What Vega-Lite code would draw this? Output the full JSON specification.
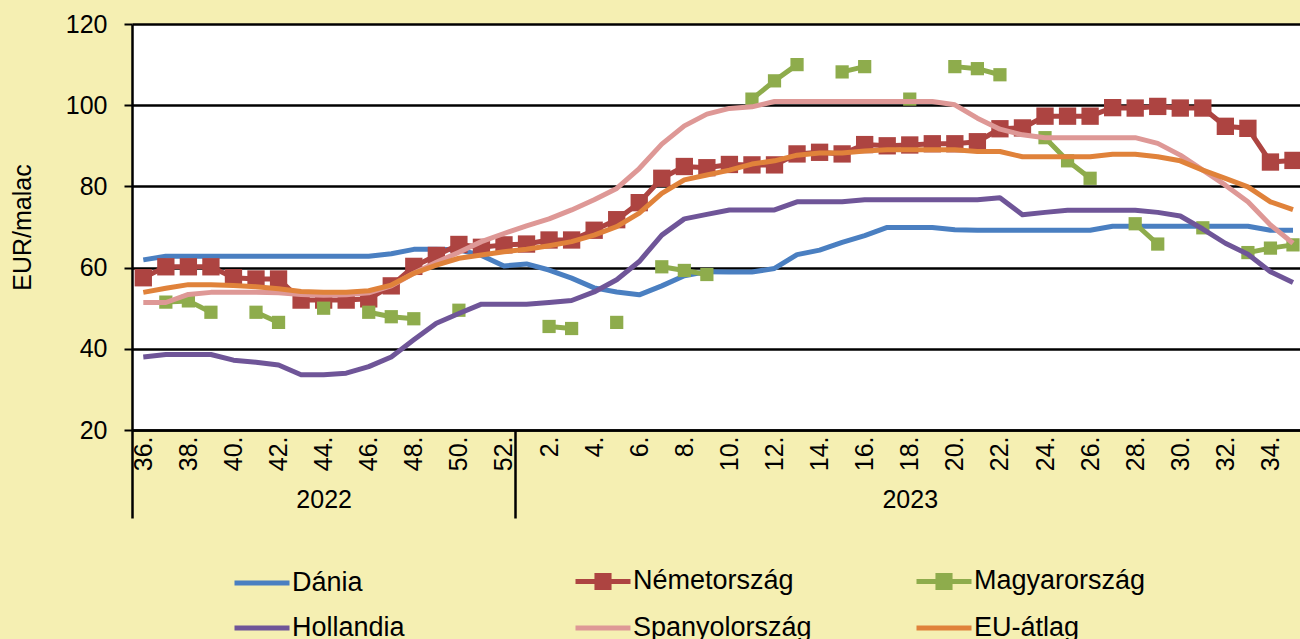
{
  "$schema": "https://vega.github.io/schema/vega-lite/v6.json",
  "autosize": "none",
  "width": 1168,
  "height": 406,
  "padding": {"left": 132, "top": 24, "right": 0, "bottom": 209},
  "background": "#F5EFB2",
  "config": {
    "view": {"fill": "white", "stroke": null},
    "font": "Liberation Sans",
    "axis": {"labelColor": "black", "labelFont": "Liberation Sans", "titleColor": "black"}
  },
  "data": {"values": [
    {"year": 2022, "week": 36, "Dánia": 61.9, "Németország": 57.5, "Magyarország": null, "Hollandia": 38.0, "Spanyolország": 51.4, "EU-átlag": 53.9},
    {"year": 2022, "week": 37, "Dánia": 62.8, "Németország": 60.2, "Magyarország": 51.5, "Hollandia": 38.6, "Spanyolország": 51.4, "EU-átlag": 54.9},
    {"year": 2022, "week": 38, "Dánia": 62.8, "Németország": 60.2, "Magyarország": 51.8, "Hollandia": 38.6, "Spanyolország": 53.4, "EU-átlag": 55.8},
    {"year": 2022, "week": 39, "Dánia": 62.8, "Németország": 60.2, "Magyarország": 49.0, "Hollandia": 38.6, "Spanyolország": 53.9, "EU-átlag": 55.8},
    {"year": 2022, "week": 40, "Dánia": 62.8, "Németország": 57.5, "Magyarország": null, "Hollandia": 37.2, "Spanyolország": 53.9, "EU-átlag": 55.6},
    {"year": 2022, "week": 41, "Dánia": 62.8, "Németország": 57.2, "Magyarország": 49.0, "Hollandia": 36.7, "Spanyolország": 53.9, "EU-átlag": 55.3},
    {"year": 2022, "week": 42, "Dánia": 62.8, "Németország": 57.2, "Magyarország": 46.5, "Hollandia": 36.0, "Spanyolország": 53.8, "EU-átlag": 54.8},
    {"year": 2022, "week": 43, "Dánia": 62.8, "Németország": 52.0, "Magyarország": null, "Hollandia": 33.6, "Spanyolország": 53.4, "EU-átlag": 54.1},
    {"year": 2022, "week": 44, "Dánia": 62.8, "Németország": 52.0, "Magyarország": 50.0, "Hollandia": 33.6, "Spanyolország": 53.2, "EU-átlag": 53.9},
    {"year": 2022, "week": 45, "Dánia": 62.8, "Németország": 52.0, "Magyarország": null, "Hollandia": 34.0, "Spanyolország": 53.3, "EU-átlag": 53.9},
    {"year": 2022, "week": 46, "Dánia": 62.8, "Németország": 52.3, "Magyarország": 49.0, "Hollandia": 35.6, "Spanyolország": 53.8, "EU-átlag": 54.3},
    {"year": 2022, "week": 47, "Dánia": 63.4, "Németország": 55.5, "Magyarország": 47.9, "Hollandia": 38.0, "Spanyolország": 55.5, "EU-átlag": 55.7},
    {"year": 2022, "week": 48, "Dánia": 64.5, "Németország": 60.3, "Magyarország": 47.4, "Hollandia": 42.2, "Spanyolország": 58.6, "EU-átlag": 58.6},
    {"year": 2022, "week": 49, "Dánia": 64.5, "Németország": 63.0, "Magyarország": null, "Hollandia": 46.3, "Spanyolország": 61.3, "EU-átlag": 60.6},
    {"year": 2022, "week": 50, "Dánia": 64.4, "Németország": 65.7, "Magyarország": 49.5, "Hollandia": 48.7, "Spanyolország": 63.8, "EU-átlag": 62.3},
    {"year": 2022, "week": 51, "Dánia": 63.0, "Németország": 65.0, "Magyarország": null, "Hollandia": 51.0, "Spanyolország": 66.4, "EU-átlag": 63.1},
    {"year": 2022, "week": 52, "Dánia": 60.4, "Németország": 65.6, "Magyarország": null, "Hollandia": 51.0, "Spanyolország": 68.4, "EU-átlag": 63.9},
    {"year": 2023, "week": 1, "Dánia": 60.9, "Németország": 65.8, "Magyarország": null, "Hollandia": 51.0, "Spanyolország": 70.3, "EU-átlag": 64.5},
    {"year": 2023, "week": 2, "Dánia": 59.4, "Németország": 66.8, "Magyarország": 45.5, "Hollandia": 51.4, "Spanyolország": 72.0, "EU-átlag": 65.4},
    {"year": 2023, "week": 3, "Dánia": 57.4, "Németország": 66.8, "Magyarország": 45.0, "Hollandia": 51.9, "Spanyolország": 74.2, "EU-átlag": 66.4},
    {"year": 2023, "week": 4, "Dánia": 55.0, "Németország": 69.2, "Magyarország": null, "Hollandia": 54.0, "Spanyolország": 76.7, "EU-átlag": 68.0},
    {"year": 2023, "week": 5, "Dánia": 54.0, "Németország": 71.8, "Magyarország": 46.5, "Hollandia": 57.0, "Spanyolország": 79.5, "EU-átlag": 70.1},
    {"year": 2023, "week": 6, "Dánia": 53.3, "Németország": 76.0, "Magyarország": null, "Hollandia": 61.5, "Spanyolország": 84.4, "EU-átlag": 73.4},
    {"year": 2023, "week": 7, "Dánia": 55.5, "Németország": 82.0, "Magyarország": 60.2, "Hollandia": 68.0, "Spanyolország": 90.4, "EU-átlag": 78.3},
    {"year": 2023, "week": 8, "Dánia": 58.0, "Németország": 84.9, "Magyarország": 59.3, "Hollandia": 72.0, "Spanyolország": 94.9, "EU-átlag": 81.6},
    {"year": 2023, "week": 9, "Dánia": 59.0, "Németország": 84.6, "Magyarország": 58.3, "Hollandia": 73.1, "Spanyolország": 97.8, "EU-átlag": 82.8},
    {"year": 2023, "week": 10, "Dánia": 58.9, "Németország": 85.4, "Magyarország": null, "Hollandia": 74.2, "Spanyolország": 99.2, "EU-átlag": 84.0},
    {"year": 2023, "week": 11, "Dánia": 58.9, "Németország": 85.3, "Magyarország": 101.5, "Hollandia": 74.2, "Spanyolország": 99.6, "EU-átlag": 85.5},
    {"year": 2023, "week": 12, "Dánia": 59.8, "Németország": 85.3, "Magyarország": 106.0, "Hollandia": 74.2, "Spanyolország": 100.9, "EU-átlag": 86.3},
    {"year": 2023, "week": 13, "Dánia": 63.2, "Németország": 88.0, "Magyarország": 110.0, "Hollandia": 76.2, "Spanyolország": 100.9, "EU-átlag": 87.7},
    {"year": 2023, "week": 14, "Dánia": 64.3, "Németország": 88.4, "Magyarország": null, "Hollandia": 76.2, "Spanyolország": 100.9, "EU-átlag": 88.2},
    {"year": 2023, "week": 15, "Dánia": 66.2, "Németország": 88.0, "Magyarország": 108.2, "Hollandia": 76.2, "Spanyolország": 100.9, "EU-átlag": 88.2},
    {"year": 2023, "week": 16, "Dánia": 67.9, "Németország": 90.3, "Magyarország": 109.5, "Hollandia": 76.7, "Spanyolország": 100.9, "EU-átlag": 88.7},
    {"year": 2023, "week": 17, "Dánia": 69.9, "Németország": 90.0, "Magyarország": null, "Hollandia": 76.7, "Spanyolország": 100.9, "EU-átlag": 89.0},
    {"year": 2023, "week": 18, "Dánia": 69.9, "Németország": 90.2, "Magyarország": 101.5, "Hollandia": 76.7, "Spanyolország": 100.9, "EU-átlag": 89.0},
    {"year": 2023, "week": 19, "Dánia": 69.9, "Németország": 90.5, "Magyarország": null, "Hollandia": 76.7, "Spanyolország": 100.9, "EU-átlag": 89.0},
    {"year": 2023, "week": 20, "Dánia": 69.3, "Németország": 90.5, "Magyarország": 109.5, "Hollandia": 76.7, "Spanyolország": 100.1, "EU-átlag": 89.0},
    {"year": 2023, "week": 21, "Dánia": 69.2, "Németország": 91.0, "Magyarország": 109.0, "Hollandia": 76.7, "Spanyolország": 96.8, "EU-átlag": 88.6},
    {"year": 2023, "week": 22, "Dánia": 69.2, "Németország": 94.2, "Magyarország": 107.5, "Hollandia": 77.2, "Spanyolország": 94.1, "EU-átlag": 88.6},
    {"year": 2023, "week": 23, "Dánia": 69.2, "Németország": 94.4, "Magyarország": null, "Hollandia": 73.0, "Spanyolország": 92.7, "EU-átlag": 87.3},
    {"year": 2023, "week": 24, "Dánia": 69.2, "Németország": 97.3, "Magyarország": 92.0, "Hollandia": 73.6, "Spanyolország": 92.0, "EU-átlag": 87.3},
    {"year": 2023, "week": 25, "Dánia": 69.2, "Németország": 97.3, "Magyarország": 86.3, "Hollandia": 74.1, "Spanyolország": 92.0, "EU-átlag": 87.3},
    {"year": 2023, "week": 26, "Dánia": 69.2, "Németország": 97.3, "Magyarország": 82.0, "Hollandia": 74.1, "Spanyolország": 92.0, "EU-átlag": 87.3},
    {"year": 2023, "week": 27, "Dánia": 70.2, "Németország": 99.4, "Magyarország": null, "Hollandia": 74.1, "Spanyolország": 92.0, "EU-átlag": 87.9},
    {"year": 2023, "week": 28, "Dánia": 70.2, "Németország": 99.3, "Magyarország": 70.8, "Hollandia": 74.1, "Spanyolország": 92.0, "EU-átlag": 87.9},
    {"year": 2023, "week": 29, "Dánia": 70.2, "Németország": 99.7, "Magyarország": 65.8, "Hollandia": 73.6, "Spanyolország": 90.6, "EU-átlag": 87.3},
    {"year": 2023, "week": 30, "Dánia": 70.2, "Németország": 99.3, "Magyarország": null, "Hollandia": 72.7, "Spanyolország": 87.7, "EU-átlag": 86.3},
    {"year": 2023, "week": 31, "Dánia": 70.2, "Németország": 99.3, "Magyarország": 69.8, "Hollandia": 69.5, "Spanyolország": 84.0, "EU-átlag": 84.0},
    {"year": 2023, "week": 32, "Dánia": 70.2, "Németország": 94.8, "Magyarország": null, "Hollandia": 66.0, "Spanyolország": 80.3, "EU-átlag": 82.0},
    {"year": 2023, "week": 33, "Dánia": 70.2, "Németország": 94.3, "Magyarország": 63.7, "Hollandia": 63.3, "Spanyolország": 76.2, "EU-átlag": 79.9},
    {"year": 2023, "week": 34, "Dánia": 69.2, "Németország": 86.0, "Magyarország": 64.8, "Hollandia": 59.0, "Spanyolország": 70.5, "EU-átlag": 76.2},
    {"year": 2023, "week": 35, "Dánia": 69.2, "Németország": 86.4, "Magyarország": 65.6, "Hollandia": 56.3, "Spanyolország": 66.0, "EU-átlag": 74.3}
  ]},
  "transform": [
    {"fold": ["Dánia", "Németország", "Magyarország", "Hollandia", "Spanyolország", "EU-átlag"], "as": ["series", "value"]}
  ],
  "encoding": {
    "y": {
      "field": "value", "type": "quantitative",
      "scale": {"domain": [20, 120], "nice": false, "zero": false},
      "axis": {
        "values": [20, 40, 60, 80, 100, 120],
        "title": "EUR/malac", "titleFontSize": 25, "titleFontWeight": "normal", "titleFont": "Liberation Sans",
        "titleX": -110, "titleY": 203, "titleAngle": -90, "titleAlign": "center", "titleBaseline": "middle",
        "labelFontSize": 25, "labelPadding": 17,
        "tickSize": 8, "tickColor": "black", "tickWidth": 2,
        "domainColor": "black", "domainWidth": 2.5,
        "grid": true, "gridColor": "black", "gridWidth": 2.5, "gridOpacity": 1
      }
    },
    "color": {
      "field": "series", "type": "nominal",
      "scale": {
        "domain": ["Dánia", "Németország", "Magyarország", "Hollandia", "Spanyolország", "EU-átlag"],
        "range": ["#4A7FC1", "#AD4441", "#8EAC4C", "#6F5598", "#DE9896", "#E0823A"]
      },
      "legend": {
        "title": null, "orient": "none", "legendX": 100, "legendY": 527, "direction": "horizontal",
        "columns": 3, "gridAlign": "all", "columnPadding": 94, "rowPadding": -12,
        "labelFontSize": 27, "labelFont": "Liberation Sans", "labelColor": "black", "labelLimit": 400,
        "symbolType": "stroke", "symbolSize": 3025, "symbolStrokeWidth": 5, "labelOffset": 0,
        "encode": {
          "symbols": {
            "update": {
              "shape": {"signal": "datum.value === 'Németország' || datum.value === 'Magyarország' ? 'M-1,0H1M-0.22,-0.22H0.22V0.22H-0.22Z' : 'stroke'"},
              "fill": {"scale": "color", "field": "value"},
              "fillOpacity": {"value": 1}
            }
          }
        }
      }
    }
  },
  "layer": [
    {
      "transform": [{"filter": {"field": "series", "oneOf": ["Dánia", "Németország", "Magyarország"]}}],
      "mark": {"type": "line", "strokeWidth": 5, "strokeJoin": "round", "invalid": "break-paths-show-domains"},
      "encoding": {
        "x": {
          "field": "week", "type": "ordinal",
          "scale": {"type": "point", "padding": 0.406, "align": 0.617,
            "domain": [36, 37, 38, 39, 40, 41, 42, 43, 44, 45, 46, 47, 48, 49, 50, 51, 52, 1, 2, 3, 4, 5, 6, 7, 8, 9, 10, 11, 12, 13, 14, 15, 16, 17, 18, 19, 20, 21, 22, 23, 24, 25, 26, 27, 28, 29, 30, 31, 32, 33, 34, 35]},
          "axis": {
            "orient": "bottom",
            "values": [36, 38, 40, 42, 44, 46, 48, 50, 52, 2, 4, 6, 8, 10, 12, 14, 16, 18, 20, 22, 24, 26, 28, 30, 32, 34],
            "labelExpr": "datum.value + '.'", "labelAngle": -90, "labelFontSize": 25, "labelPadding": 6,
            "labelOverlap": false, "ticks": false, "domain": true, "domainColor": "black", "domainWidth": 2.5,
            "grid": false, "title": null
          }
        }
      }
    },
    {
      "transform": [{"filter": {"field": "series", "oneOf": ["Németország", "Magyarország"]}}],
      "mark": {"type": "point", "shape": "square", "filled": true, "opacity": 1},
      "encoding": {
        "x": {
          "field": "week", "type": "ordinal",
          "scale": {"type": "point", "padding": 0.406, "align": 0.617,
            "domain": [36, 37, 38, 39, 40, 41, 42, 43, 44, 45, 46, 47, 48, 49, 50, 51, 52, 1, 2, 3, 4, 5, 6, 7, 8, 9, 10, 11, 12, 13, 14, 15, 16, 17, 18, 19, 20, 21, 22, 23, 24, 25, 26, 27, 28, 29, 30, 31, 32, 33, 34, 35]},
          "axis": {
            "orient": "bottom",
            "values": [44, 18],
            "labelExpr": "datum.value == 44 ? '2022' : '2023'", "labelAngle": 0, "labelFontSize": 25,
            "labelPadding": 57, "labelBaseline": "top", "ticks": false, "domain": false, "grid": false, "title": null
          }
        },
        "size": {
          "field": "series", "type": "nominal",
          "scale": {"domain": ["Németország", "Magyarország"], "range": [300, 175]},
          "legend": null
        }
      }
    },
    {
      "transform": [{"filter": {"field": "series", "oneOf": ["Hollandia", "Spanyolország", "EU-átlag"]}}],
      "mark": {"type": "line", "strokeWidth": 5, "strokeJoin": "round", "invalid": "break-paths-show-domains"},
      "encoding": {
        "x": {
          "field": "week", "type": "ordinal",
          "scale": {"type": "point", "padding": 0.406, "align": 0.617,
            "domain": [36, 37, 38, 39, 40, 41, 42, 43, 44, 45, 46, 47, 48, 49, 50, 51, 52, 1, 2, 3, 4, 5, 6, 7, 8, 9, 10, 11, 12, 13, 14, 15, 16, 17, 18, 19, 20, 21, 22, 23, 24, 25, 26, 27, 28, 29, 30, 31, 32, 33, 34, 35]},
          "axis": {
            "orient": "bottom",
            "values": [36, 1], "labels": false, "ticks": true, "tickSize": 88, "tickWidth": 2.5,
            "tickColor": "black", "tickOffset": -11.27, "domain": false, "grid": false, "title": null
          }
        }
      }
    }
  ],
  "resolve": {"axis": {"x": "independent"}}
}
